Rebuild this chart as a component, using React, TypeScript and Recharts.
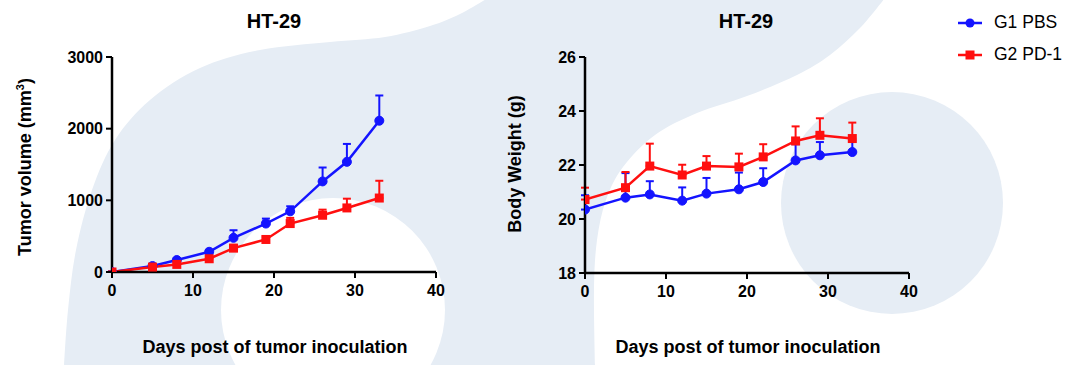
import React from 'react'
import { LineChart, Line, XAxis, YAxis, ErrorBar } from 'recharts'

// days after inoculation
const days = [0, 5, 8, 12, 15, 19, 22, 26, 29, 33]

// tumor volume (mm3), mean + upper SEM
const volG1 = [0, 83, 167, 282, 477, 676, 847, 1264, 1537, 2111]
const volG1Err = [10, 18, 20, 25, 106, 69, 70, 194, 250, 352]
const volG2 = [0, 69, 106, 185, 333, 454, 676, 792, 894, 1032]
const volG2Err = [8, 12, 15, 20, 45, 35, 79, 78, 129, 241]

// body weight (g), mean + upper SEM
const bwG1 = [20.35, 20.79, 20.91, 20.68, 20.94, 21.1, 21.37, 22.17, 22.36, 22.48]
const bwG1Err = [0.53, 0.91, 0.49, 0.49, 0.58, 0.62, 0.51, 0.6, 0.49, 0.43]
const bwG2 = [20.72, 21.16, 21.96, 21.63, 21.96, 21.93, 22.3, 22.89, 23.1, 22.98]
const bwG2Err = [0.44, 0.58, 0.83, 0.38, 0.37, 0.49, 0.47, 0.54, 0.63, 0.59]

const xTicks = [0, 10, 20, 30, 40]
const volTicks = [0, 1000, 2000, 3000]
const bwTicks = [18, 20, 22, 24, 26]

const seriesNames = ['G1 PBS', 'G2 PD-1']

const volData = days.map((d, i) => ({
  day: d,
  g1: volG1[i],
  g1Err: [0, volG1Err[i]],
  g2: volG2[i],
  g2Err: [0, volG2Err[i]],
}))

const bwData = days.map((d, i) => ({
  day: d,
  g1: bwG1[i],
  g1Err: [0, bwG1Err[i]],
  g2: bwG2[i],
  g2Err: [0, bwG2Err[i]],
}))

const BLUE = '#1414ff'
const RED = '#ff0f0f'
const SHADE = '#e6edf5'
const FONT = '"Liberation Sans", Arial, Helvetica, sans-serif'

const tickStyle = { fill: '#000', fontSize: 16, fontWeight: 700 }

// catmull-rom -> bezier, used only for the watermark in the background
const smooth = (pts: number[][]) => {
  let d = `M${pts[0][0]},${pts[0][1]}`
  for (let i = 0; i < pts.length - 1; i++) {
    const p0 = pts[i - 1] || pts[i]
    const p1 = pts[i]
    const p2 = pts[i + 1]
    const p3 = pts[i + 2] || p2
    const c1x = p1[0] + (p2[0] - p0[0]) / 6
    const c1y = p1[1] + (p2[1] - p0[1]) / 6
    const c2x = p2[0] - (p3[0] - p1[0]) / 6
    const c2y = p2[1] - (p3[1] - p1[1]) / 6
    d += ` C${c1x},${c1y} ${c2x},${c2y} ${p2[0]},${p2[1]}`
  }
  return d
}

const outerEdge = [
  [64, 366], [68, 310], [76, 250], [92, 190], [115, 140], [150, 100],
  [200, 68], [260, 50], [330, 42], [385, 37], [430, 26], [460, 14], [488, -2],
]
const innerEdge = [
  [885, -2], [860, 28], [830, 55], [797, 75], [747, 96], [697, 113],
  [655, 135], [623, 167], [606, 200], [597, 240], [594, 290], [595, 366],
]

const Watermark = () => (
  <svg width={1080} height={365} style={{ position: 'absolute', left: 0, top: 0 }}>
    <path d={smooth(outerEdge) + ' ' + smooth(innerEdge).replace('M', 'L') + ' Z'} fill={SHADE} />
    <circle cx={333} cy={310} r={112} fill="#fff" />
    <circle cx={892} cy={203} r={111} fill={SHADE} />
  </svg>
)

const SquareDot = (props: any) => {
  const { cx, cy, index } = props
  if (cx == null || cy == null) return <g key={`sq-${index}`} />
  return <rect key={`sq-${index}`} x={cx - 4.5} y={cy - 4.5} width={9} height={9} fill={RED} />
}

const Series = () => null

const Panel = ({ data, yDomain, yTicks, width, margin }: any) => (
  <LineChart width={width} height={365} data={data} margin={margin}>
    <XAxis
      dataKey="day"
      type="number"
      domain={[0, 40]}
      ticks={xTicks}
      allowDataOverflow
      axisLine={{ stroke: '#000', strokeWidth: 2.5 }}
      tickLine={{ stroke: '#000', strokeWidth: 2 }}
      tickSize={6}
      tickMargin={7}
      tick={tickStyle}
    />
    <YAxis
      type="number"
      domain={yDomain}
      ticks={yTicks}
      allowDataOverflow
      width={60}
      axisLine={{ stroke: '#000', strokeWidth: 2.5 }}
      tickLine={{ stroke: '#000', strokeWidth: 2 }}
      tickSize={6}
      tickMargin={3}
      tick={tickStyle}
    />
    <Line
      dataKey="g1"
      name={seriesNames[0]}
      stroke={BLUE}
      strokeWidth={2.5}
      dot={{ r: 4.5, fill: BLUE, stroke: BLUE, strokeWidth: 1 }}
      activeDot={false}
      isAnimationActive={false}
    >
      <ErrorBar dataKey="g1Err" direction="y" width={4} stroke={BLUE} strokeWidth={2} />
    </Line>
    <Line
      dataKey="g2"
      name={seriesNames[1]}
      stroke={RED}
      strokeWidth={2.5}
      dot={SquareDot}
      activeDot={false}
      isAnimationActive={false}
    >
      <ErrorBar dataKey="g2Err" direction="y" width={4} stroke={RED} strokeWidth={2} />
    </Line>
  </LineChart>
)

const txt = (extra: any) => ({
  position: 'absolute' as const,
  fontFamily: FONT,
  fontWeight: 700,
  color: '#000',
  whiteSpace: 'nowrap' as const,
  lineHeight: 1,
  ...extra,
})

const App = () => {
  return (
    <div style={{ position: 'absolute', left: 0, top: 0, width: 1080, height: 365, background: '#fff', overflow: 'hidden', fontFamily: FONT }}>
      <Watermark />

      <div style={{ position: 'absolute', left: 0, top: 0 }}>
        <Panel data={volData} yDomain={[0, 3000]} yTicks={volTicks} width={460}
          margin={{ top: 57, right: 24, bottom: 63, left: 52 }} />
      </div>
      <div style={{ position: 'absolute', left: 480, top: 0 }}>
        <Panel data={bwData} yDomain={[18, 26]} yTicks={bwTicks} width={450}
          margin={{ top: 57, right: 21, bottom: 62, left: 45 }} />
      </div>

      {/* titles */}
      <div style={txt({ left: 274, top: 21, fontSize: 20, transform: 'translate(-50%, -50%)' })}>HT-29</div>
      <div style={txt({ left: 746, top: 21, fontSize: 20, transform: 'translate(-50%, -50%)' })}>HT-29</div>

      {/* x axis titles */}
      <div style={txt({ left: 275, top: 347, fontSize: 18, transform: 'translate(-50%, -50%)' })}>Days post of tumor inoculation</div>
      <div style={txt({ left: 748, top: 347, fontSize: 18, transform: 'translate(-50%, -50%)' })}>Days post of tumor inoculation</div>

      {/* y axis titles */}
      <div style={txt({ left: 25, top: 167, fontSize: 18, transform: 'translate(-50%, -50%) rotate(-90deg)' })}>
        Tumor volume (mm<sup style={{ fontSize: 11, verticalAlign: 'super', lineHeight: 0 }}>3</sup>)
      </div>
      <div style={txt({ left: 515, top: 164, fontSize: 18, transform: 'translate(-50%, -50%) rotate(-90deg)' })}>
        Body Weight (g)
      </div>

      {/* legend */}
      <svg width={30} height={70} style={{ position: 'absolute', left: 956, top: 8 }}>
        <line x1={2} x2={26} y1={15} y2={15} stroke={BLUE} strokeWidth={2.5} />
        <circle cx={14} cy={15} r={4.5} fill={BLUE} />
        <line x1={2} x2={26} y1={47} y2={47} stroke={RED} strokeWidth={2.5} />
        <rect x={9.5} y={42.5} width={9} height={9} fill={RED} />
      </svg>
      <div style={txt({ left: 994, top: 23, fontSize: 17.5, fontWeight: 400, transform: 'translateY(-50%)' })}>{seriesNames[0]}</div>
      <div style={txt({ left: 994, top: 55, fontSize: 17.5, fontWeight: 400, transform: 'translateY(-50%)' })}>{seriesNames[1]}</div>
    </div>
  )
}

export default App
